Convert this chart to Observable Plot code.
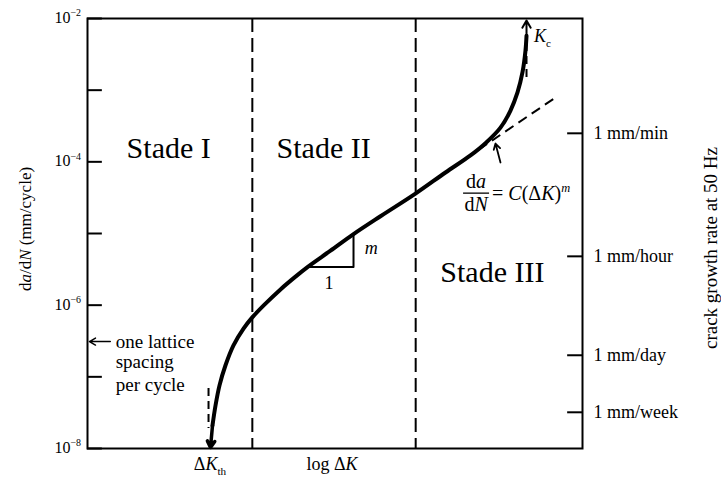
<!DOCTYPE html>
<html><head><meta charset="utf-8">
<script src="https://cdn.jsdelivr.net/npm/d3@7"></script>
<script src="https://cdn.jsdelivr.net/npm/@observablehq/plot@0.6"></script>
<style>body{margin:0;background:#fff} #chart svg{font-family:"Liberation Serif",serif;}</style>
</head><body><div id="chart"></div>
<script>
// x: log ΔK (arbitrary units), y: da/dN (mm/cycle)
const logK = [2.525, 2.586, 2.667, 2.788, 2.949, 3.152, 3.333, 3.596, 3.899, 4.202, 4.444, 4.909, 5.374, 5.919, 6.626, 7.232, 7.737, 8.040, 8.343, 8.545, 8.687, 8.788, 8.848, 8.869];
const dadn = [2.09e-8, 3.98e-8, 7.6e-8, 1.45e-7, 2.75e-7, 4.7e-7, 6.8e-7, 1.05e-6, 1.66e-6, 2.5e-6, 3.4e-6, 5.75e-6, 9.8e-6, 1.74e-5, 3.6e-5, 7.1e-5, 1.23e-4, 1.82e-4, 3.0e-4, 5.2e-4, 9.3e-4, 1.78e-3, 3.55e-3, 5.75e-3];
const decadeTicks = [1e-8, 1e-7, 1e-6, 1e-5, 1e-4, 1e-3, 1e-2];
const labelTicks = [1e-8, 1e-6, 1e-4, 1e-2];
const labelExps = ["−8", "−6", "−4", "−2"];
const rateNames = ["1 mm/min", "1 mm/hour", "1 mm/day", "1 mm/week"];
const rateValues = [2.5e-4, 4.8e-6, 2.0e-7, 3.2e-8];
const stageBounds = [3.33, 6.63];
const stageNames = ["Stade I", "Stade II", "Stade III"];
const stageX = [1.64, 4.77, 8.18];
const stageY = [1.55e-4, 1.55e-4, 2.86e-6];
const latticeLines = ["one lattice", "spacing", "per cycle"];
const latticeY = [3.1e-7, 1.6e-7, 7.7e-8];
const thresholdK = 2.485;
const criticalK = 8.869;

const curve = logK.map((k, i) => ({k, r: dadn[i]}));

const chart = Plot.plot({
  width: 721, height: 478,
  marginLeft: 87, marginRight: 139, marginTop: 18, marginBottom: 30,
  x: {domain: [0, 10], axis: null},
  y: {type: "log", domain: [1e-8, 1e-2], axis: null},
  style: {fontFamily: "Liberation Serif, serif", background: "white", color: "black"},
  marks: [
    Plot.ruleX(stageBounds, {x: d => d, stroke: "black", strokeWidth: 2, strokeDasharray: "14,6"}),
    Plot.frame({stroke: "black", strokeWidth: 2}),
    Plot.ruleY(decadeTicks, {y: d => d, x1: 0, x2: 0.3, stroke: "black", strokeWidth: 2}),
    Plot.ruleY(rateValues, {y: d => d, x1: 9.7, x2: 10, stroke: "black", strokeWidth: 2}),
    Plot.text(rateNames, {x: 10, y: (d, i) => rateValues[i], text: d => d, dx: 11, textAnchor: "start", fontSize: 18, fill: "black"}),
    Plot.text(stageNames, {x: (d, i) => stageX[i], y: (d, i) => stageY[i], text: d => d, fontSize: 30, fill: "black"}),
    Plot.text(latticeLines, {x: 0.57, y: (d, i) => latticeY[i], text: d => d, textAnchor: "start", fontSize: 19, fill: "black"}),
    Plot.arrow([0], {x1: 0.46, x2: 0.04, y1: 3.1e-7, y2: 3.1e-7, stroke: "black", strokeWidth: 1.5, headLength: 7}),
    // threshold asymptote
    Plot.ruleX([thresholdK - 0.04], {y1: 6.9e-8, y2: 1.9e-8, stroke: "black", strokeWidth: 2, strokeDasharray: "8,5"}),
    // critical asymptote
    Plot.ruleX([criticalK], {y1: 1.5e-3, y2: 4.2e-3, stroke: "black", strokeWidth: 2, strokeDasharray: "8,5"}),
    Plot.arrow([0], {x1: criticalK, x2: criticalK, y1: 4.2e-3, y2: 9.4e-3, stroke: "black", strokeWidth: 2, headLength: 8}),
    // Paris law tangent
    Plot.link([0], {x1: 7.636, y1: 1.11e-4, x2: 9.455, y2: 7.9e-4, stroke: "black", strokeWidth: 2, strokeDasharray: "10,6"}),
    // slope triangle
    Plot.line([[4.444, 3.4e-6], [5.374, 3.4e-6], [5.374, 9.8e-6]], {stroke: "black", strokeWidth: 2}),
    Plot.text(["m"], {x: 5.6, y: 6.2e-6, text: d => d, fontStyle: "italic", fontSize: 18, textAnchor: "start", fill: "black"}),
    Plot.text(["1"], {x: 4.88, y: 2.0e-6, text: d => d, fontSize: 18, fill: "black"}),
    // formula arrow
    Plot.arrow([0], {x1: 8.343, y1: 9.8e-5, x2: 8.242, y2: 1.8e-4, stroke: "black", strokeWidth: 1.8, headLength: 7}),
    // main curve
    Plot.line(curve, {x: "k", y: "r", stroke: "black", strokeWidth: 4, curve: "catmull-rom"}),
    Plot.arrow([0], {x1: logK[0], y1: dadn[0], x2: thresholdK, y2: 1.03e-8, stroke: "black", strokeWidth: 3.5, headLength: 9})
  ]
});
document.getElementById("chart").appendChild(chart);

function scaleFn(name) {
  const s = chart.scale(name);
  if (s.apply) return v => s.apply(v);
  const f = (s.type === "log" ? d3.scaleLog() : d3.scaleLinear()).domain(s.domain).range(s.range);
  return f;
}
const X = scaleFn("x"), Y = scaleFn("y");
const svg = d3.select(chart);

function rich(px, py, parts, {size = 18, anchor = "start", rotate = 0} = {}) {
  const t = svg.append("text")
    .attr("transform", `translate(${px},${py}) rotate(${rotate})`)
    .attr("text-anchor", anchor)
    .attr("font-family", "Liberation Serif, serif")
    .attr("font-size", size)
    .attr("fill", "black");
  let cur = 0;
  for (const p of parts) {
    const target = p.sup ? -0.42 * size : p.sub ? 0.3 * size : 0;
    const ts = t.append("tspan").text(p.t).attr("dy", target - cur);
    if (p.i) ts.attr("font-style", "italic");
    if (p.sup || p.sub) ts.attr("font-size", size * 0.62);
    cur = target;
  }
  return t;
}

// left tick labels
labelTicks.forEach((v, i) => {
  rich(X(0) - 6, Y(v) + 5, [{t: "10"}, {t: labelExps[i], sup: true}], {size: 16, anchor: "end"});
});
// axis titles
rich(31, 229, [{t: "d"}, {t: "a", i: true}, {t: "/d"}, {t: "N", i: true}, {t: " (mm/cycle)"}], {size: 17, anchor: "middle", rotate: -90});
rich(717, 248, [{t: "crack growth rate at 50 Hz"}], {size: 19, anchor: "middle", rotate: -90});
// x labels
rich(X(thresholdK), 470, [{t: "Δ"}, {t: "K", i: true}, {t: "th", sub: true}], {size: 18, anchor: "middle"});
rich(X(4.95), 470, [{t: "log Δ"}, {t: "K", i: true}], {size: 18, anchor: "middle"});
// K_c
rich(X(criticalK) + 8, Y(9.4e-3) + 22, [{t: "K", i: true}, {t: "c", sub: true}], {size: 18});
// formula (fraction bar anchored on the data scale)
const fx = X(7.86), fy = Y(3.6e-5);
rich(fx, fy - 5, [{t: "d"}, {t: "a", i: true}], {size: 20, anchor: "middle"});
svg.append("line").attr("x1", fx - 13).attr("x2", fx + 13).attr("y1", fy).attr("y2", fy).attr("stroke", "black").attr("stroke-width", 1.3);
rich(fx, fy + 18, [{t: "d"}, {t: "N", i: true}], {size: 20, anchor: "middle"});
rich(fx + 16, fy + 7, [{t: "= "}, {t: "C", i: true}, {t: "(Δ"}, {t: "K", i: true}, {t: ")"}, {t: "m", i: true, sup: true}], {size: 20});
</script>
</body></html>
